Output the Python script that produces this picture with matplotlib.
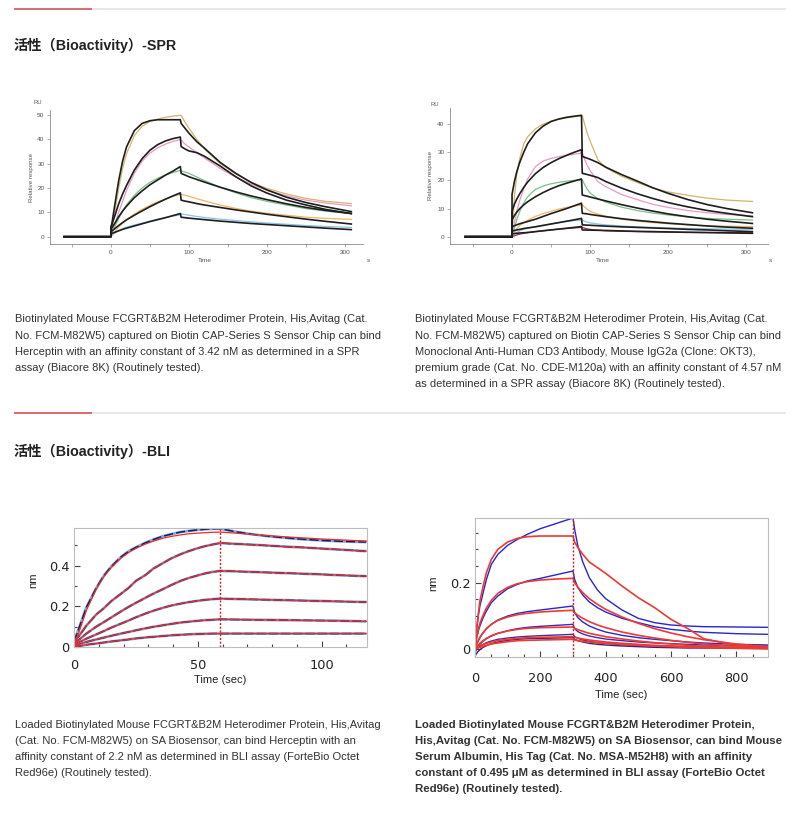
import matplotlib
matplotlib.use("Agg")
import matplotlib.pyplot as plt
from matplotlib.ticker import MultipleLocator, FixedLocator, FuncFormatter

W, H = 800, 817
LATIN = ['Liberation Sans', 'DejaVu Sans']
MIXED = ['Liberation Sans', 'Noto Sans CJK SC', 'DejaVu Sans']
plt.rcParams['font.family'] = LATIN

# ---------------- SPR left (Herceptin) ----------------
SPR_L_BASE_T = [-60, 0]
SPR_L_T_A = [0, 5, 10, 15, 20, 30, 40, 50, 60, 70, 80, 89]
SPR_L_T_D = [90, 95, 100, 110, 120, 140, 160, 180, 200, 225, 250, 275, 308]

spr_l_fit1_a = [2.7, 13, 23, 31, 36.8, 43.5, 46.5, 47.6, 48, 48, 48, 48]
spr_l_fit1_d = [46.5, 44.5, 42.5, 39, 36.3, 30.5, 26, 22.2, 19.2, 16.2, 14, 12.3, 10.3]
spr_l_fit2_a = [4, 8.5, 13.5, 17.5, 21, 27.3, 32, 35.5, 37.8, 39.3, 40.3, 40.9]
spr_l_fit2_d = [37, 36, 35.2, 34.5, 33.0, 29, 24.6, 20.8, 17.9, 15, 13, 11.2, 9.5]
spr_l_fit3_a = [3, 5.5, 8.2, 10.5, 12.5, 16, 18.8, 21.3, 23.3, 25.3, 27, 28.8]
spr_l_fit3_d = [26, 25.3, 24.6, 23.5, 22.4, 20.3, 18.4, 16.7, 15.2, 13.5, 12, 10.8, 9.5]
spr_l_fit4_a = [2, 3.3, 4.6, 5.8, 6.9, 8.8, 10.6, 12.3, 13.9, 15.4, 16.8, 18]
spr_l_fit4_d = [15, 14.6, 14.3, 13.6, 13, 12, 11, 10.1, 9.2, 8.2, 7.2, 6.3, 5.2]
spr_l_fit5_a = [1.2, 1.8, 2.4, 3, 3.5, 4.4, 5.3, 6.2, 7, 7.8, 8.7, 9.5]
spr_l_fit5_d = [8, 7.8, 7.6, 7.3, 7, 6.4, 5.9, 5.4, 5, 4.5, 4, 3.5, 2.9]

spr_l_dat1_a = [0.5, 10, 20, 28, 34, 41.5, 45.3, 47.3, 48.3, 49, 49.5, 49.8]
spr_l_dat1_d = [49.8, 47, 44.5, 40, 36, 30, 25.8, 22.3, 19.8, 17.5, 15.7, 14.5, 13.6]
spr_l_dat2_a = [1, 5, 10, 14.5, 19, 26, 31, 34.3, 36.5, 38, 39.2, 39.8]
spr_l_dat2_d = [39.6, 38, 36.8, 34.5, 32.3, 28, 24.5, 21.5, 19, 16.8, 15, 13.8, 12.7]
spr_l_dat3_a = [0.5, 4, 7.5, 10.5, 13, 17, 20, 22.3, 24, 25.3, 26.4, 27.2]
spr_l_dat3_d = [27, 26.5, 26, 24.5, 23, 20.3, 18, 16, 14.5, 13, 11.5, 10.5, 9.5]
spr_l_dat4_a = [0, 2, 4, 5.5, 7, 9.3, 11.2, 12.9, 14.3, 15.5, 16.6, 17.4]
spr_l_dat4_d = [17.4, 17, 16.6, 15.6, 14.7, 13, 11.6, 10.5, 9.6, 8.8, 8, 7.5, 7.1]
spr_l_dat5_a = [0.2, 1.5, 2.6, 3.3, 3.9, 4.8, 5.6, 6.4, 7.2, 7.9, 8.5, 9]
spr_l_dat5_d = [9.3, 9.1, 8.8, 8.3, 7.9, 7.2, 6.6, 6.1, 5.6, 5.1, 4.6, 4.2, 3.8]
spr_l_colors = ['#d2b46c', '#e79ac4', '#7cc08a', '#f0b466', '#8cc3e6']

# ---------------- SPR right (OKT3) ----------------
SPR_R_BASE_T = [-60, 0]
SPR_R_T_A = [0, 3, 6, 10, 15, 20, 30, 40, 50, 60, 70, 80, 89]
SPR_R_T_D = [90, 93, 96, 100, 110, 120, 140, 160, 180, 200, 225, 250, 275, 308]

spr_r_fit1_a = [15, 19.5, 23, 26.5, 30, 33, 36.9, 39.3, 40.9, 41.8, 42.4, 42.8, 43.1]
spr_r_fit1_d = [28.5, 28.2, 27.9, 27.5, 26.3, 24.7, 22.1, 19.8, 17.4, 15.4, 13.2, 11.4, 10, 8.5]
spr_r_fit2_a = [9, 11.5, 13.3, 15.3, 17.5, 19.4, 22.4, 24.6, 26.3, 27.7, 28.9, 30, 30.9]
spr_r_fit2_d = [22.5, 22.3, 22.1, 21.8, 21, 19.6, 17.3, 15.3, 13.6, 12.1, 10.6, 9.3, 8.3, 7.1]
spr_r_fit3_a = [6, 7.5, 8.7, 10, 11.3, 12.4, 14.2, 15.7, 17, 18.1, 19, 19.8, 20.5]
spr_r_fit3_d = [14.8, 14.6, 14.4, 14.1, 13.4, 12.7, 11.4, 10.2, 9.1, 8.1, 7.1, 6.2, 5.5, 4.7]
spr_r_fit4_a = [3.5, 3.9, 4.2, 4.6, 5, 5.4, 6.2, 7.2, 8.2, 9.1, 10, 11, 11.9]
spr_r_fit4_d = [8.3, 8.2, 8.1, 7.9, 7.5, 7.1, 6.4, 5.8, 5.3, 4.8, 4.3, 3.8, 3.4, 3.0]
spr_r_fit5_a = [2, 2.2, 2.4, 2.6, 2.9, 3.1, 3.5, 4, 4.5, 5, 5.5, 6, 6.5]
spr_r_fit5_d = [4.2, 4.15, 4.1, 4.05, 3.9, 3.75, 3.5, 3.3, 3.1, 2.9, 2.6, 2.4, 2.1, 1.8]
spr_r_fit6_a = [1, 1.1, 1.2, 1.3, 1.4, 1.5, 1.8, 2.1, 2.4, 2.7, 3, 3.3, 3.6]
spr_r_fit6_d = [2.4, 2.38, 2.36, 2.33, 2.27, 2.2, 2.05, 1.9, 1.8, 1.7, 1.55, 1.45, 1.35, 1.2]

spr_r_dat1_a = [0, 14, 22, 28, 33, 35.5, 38.3, 40, 41, 41.7, 42.2, 42.6, 43]
spr_r_dat1_d = [43, 40, 37, 34, 27.3, 24.5, 21.5, 19.3, 17.3, 15.9, 14.7, 13.7, 13, 12.5]
spr_r_dat2_a = [0, 5, 9, 13, 17, 20.5, 24.9, 26.9, 27.8, 28.4, 28.9, 29.3, 29.7]
spr_r_dat2_d = [29.7, 27.5, 25.5, 23.5, 19.5, 17.8, 15, 13.2, 11.5, 10.4, 9.3, 8.5, 7.9, 7.4]
spr_r_dat3_a = [0, 3, 6, 9, 12, 14.2, 16.8, 18, 18.8, 19.3, 19.7, 20, 20.2]
spr_r_dat3_d = [20.2, 18.5, 17, 15.5, 13.5, 12.3, 10.5, 9.3, 8.4, 7.7, 7, 6.5, 6.2, 5.9]
spr_r_dat4_a = [0, 1.5, 2.8, 4, 5, 5.8, 7.2, 8.2, 9, 9.8, 10.4, 10.9, 11.3]
spr_r_dat4_d = [11.3, 10.5, 9.8, 9, 8, 7.3, 6.2, 5.5, 5, 4.6, 4.2, 3.9, 3.7, 3.6]
spr_r_dat5_a = [0, 0.8, 1.5, 2.1, 2.6, 3, 3.6, 4.1, 4.6, 5, 5.4, 5.7, 5.9]
spr_r_dat5_d = [5.9, 5.5, 5.2, 4.9, 4.5, 4.2, 3.8, 3.5, 3.3, 3.1, 2.9, 2.8, 2.7, 2.6]
spr_r_dat6_a = [0, 0.3, 0.6, 0.9, 1.2, 1.4, 1.8, 2.1, 2.4, 2.7, 2.9, 3.1, 3.3]
spr_r_dat6_d = [3.3, 3.0, 2.8, 2.6, 2.3, 2.1, 1.9, 1.8, 1.7, 1.6, 1.55, 1.5, 1.45, 1.4]
spr_r_colors = ['#d2b46c', '#e79ac4', '#7cc08a', '#f0b466', '#8cc3e6', '#a3344e']

# ---------------- BLI left (Herceptin) ----------------
BLI_L_T_A = [0, 5, 9, 12, 15, 19, 22, 25, 29, 32, 36, 39, 43, 46, 50, 53, 56, 59]
BLI_L_T_D = [59, 65, 72, 79, 86, 93, 100, 107, 114, 118]
BLI_L_SWITCH = 59

bli_l_dat1_a = [0.025, 0.195, 0.29, 0.35, 0.395, 0.443, 0.47, 0.49, 0.513, 0.528, 0.545, 0.554, 0.565, 0.57, 0.576, 0.579, 0.581, 0.582]
bli_l_dat1_d = [0.582, 0.567, 0.554, 0.544, 0.536, 0.529, 0.524, 0.52, 0.517, 0.516]
bli_l_fit1_a = [0.0, 0.18, 0.285, 0.345, 0.39, 0.437, 0.464, 0.485, 0.507, 0.52, 0.535, 0.543, 0.551, 0.556, 0.56, 0.562, 0.564, 0.565]
bli_l_fit1_d = [0.565, 0.56, 0.553, 0.547, 0.541, 0.536, 0.531, 0.527, 0.523, 0.521]
bli_l_cur2_a = [0.02, 0.105, 0.16, 0.19, 0.225, 0.262, 0.29, 0.325, 0.355, 0.385, 0.413, 0.434, 0.456, 0.47, 0.486, 0.496, 0.504, 0.511]
bli_l_cur2_d = [0.511, 0.507, 0.503, 0.498, 0.493, 0.489, 0.484, 0.479, 0.474, 0.471]
bli_l_cur3_a = [0.015, 0.066, 0.1, 0.122, 0.145, 0.175, 0.197, 0.217, 0.243, 0.262, 0.285, 0.303, 0.325, 0.338, 0.352, 0.362, 0.369, 0.374]
bli_l_cur3_d = [0.374, 0.372, 0.369, 0.366, 0.363, 0.36, 0.357, 0.353, 0.35, 0.348]
bli_l_cur4_a = [0.01, 0.041, 0.062, 0.078, 0.095, 0.115, 0.13, 0.146, 0.165, 0.178, 0.193, 0.203, 0.213, 0.22, 0.227, 0.232, 0.235, 0.238]
bli_l_cur4_d = [0.238, 0.236, 0.234, 0.232, 0.23, 0.228, 0.226, 0.224, 0.222, 0.221]
bli_l_cur5_a = [0.005, 0.025, 0.037, 0.046, 0.055, 0.066, 0.074, 0.082, 0.092, 0.099, 0.107, 0.113, 0.12, 0.124, 0.129, 0.132, 0.134, 0.136]
bli_l_cur5_d = [0.136, 0.135, 0.134, 0.133, 0.132, 0.131, 0.13, 0.129, 0.127, 0.126]
bli_l_cur6_a = [0.0, 0.011, 0.017, 0.022, 0.027, 0.033, 0.037, 0.042, 0.047, 0.05, 0.054, 0.057, 0.06, 0.062, 0.064, 0.065, 0.066, 0.066]
bli_l_cur6_d = [0.066, 0.066, 0.066, 0.066, 0.066, 0.066, 0.066, 0.066, 0.066, 0.066]

# ---------------- BLI right (MSA) ----------------
BLI_R_T_A = [0, 5, 10, 15, 25, 35, 50, 70, 100, 130, 160, 200, 250, 300]
BLI_R_T_D = [300, 305, 315, 330, 350, 375, 400, 450, 500, 550, 600, 650, 700, 800, 897]
BLI_R_SWITCH = 300

bli_r_dat1_a = [0.0, 0.06, 0.1, 0.13, 0.17, 0.21, 0.255, 0.285, 0.312, 0.33, 0.345, 0.362, 0.378, 0.394]
bli_r_dat1_d = [0.394, 0.36, 0.31, 0.262, 0.215, 0.178, 0.152, 0.118, 0.093, 0.08, 0.073, 0.07, 0.068, 0.067, 0.066]
bli_r_fit1_a = [0.0, 0.06, 0.105, 0.145, 0.19, 0.23, 0.27, 0.3, 0.322, 0.333, 0.338, 0.34, 0.34, 0.34]
bli_r_fit1_d = [0.34, 0.322, 0.305, 0.285, 0.262, 0.245, 0.228, 0.19, 0.155, 0.125, 0.09, 0.063, 0.032, 0.012, 0.006]
bli_r_dat2_a = [0.0, 0.035, 0.055, 0.07, 0.095, 0.115, 0.14, 0.16, 0.182, 0.195, 0.205, 0.213, 0.224, 0.235]
bli_r_dat2_d = [0.235, 0.21, 0.185, 0.163, 0.142, 0.125, 0.112, 0.093, 0.08, 0.068, 0.06, 0.055, 0.051, 0.047, 0.045]
bli_r_fit2_a = [0.0, 0.035, 0.06, 0.078, 0.103, 0.124, 0.147, 0.168, 0.186, 0.197, 0.203, 0.208, 0.211, 0.213]
bli_r_fit2_d = [0.213, 0.2, 0.186, 0.17, 0.152, 0.135, 0.12, 0.097, 0.078, 0.062, 0.049, 0.038, 0.029, 0.016, 0.008]
bli_r_dat3_a = [0.0, 0.015, 0.025, 0.035, 0.05, 0.062, 0.075, 0.088, 0.1, 0.108, 0.113, 0.118, 0.124, 0.13]
bli_r_dat3_d = [0.13, 0.11, 0.095, 0.082, 0.07, 0.06, 0.052, 0.042, 0.035, 0.03, 0.026, 0.022, 0.019, 0.015, 0.013]
bli_r_fit3_a = [0.0, 0.015, 0.027, 0.036, 0.05, 0.062, 0.075, 0.087, 0.097, 0.104, 0.108, 0.112, 0.115, 0.117]
bli_r_fit3_d = [0.117, 0.11, 0.102, 0.093, 0.083, 0.073, 0.065, 0.052, 0.042, 0.034, 0.027, 0.021, 0.016, 0.009, 0.005]
bli_r_dat4_a = [-0.01, 0.0, 0.008, 0.015, 0.025, 0.032, 0.04, 0.048, 0.056, 0.062, 0.066, 0.069, 0.072, 0.075]
bli_r_dat4_d = [0.075, 0.062, 0.053, 0.046, 0.04, 0.035, 0.031, 0.026, 0.022, 0.019, 0.017, 0.015, 0.013, 0.011, 0.01]
bli_r_fit4_a = [0.0, 0.007, 0.013, 0.018, 0.026, 0.033, 0.041, 0.048, 0.055, 0.06, 0.063, 0.065, 0.066, 0.067]
bli_r_fit4_d = [0.067, 0.063, 0.059, 0.054, 0.048, 0.043, 0.038, 0.031, 0.025, 0.02, 0.016, 0.012, 0.009, 0.005, 0.003]
bli_r_dat5_a = [-0.005, 0.002, 0.006, 0.01, 0.015, 0.02, 0.025, 0.03, 0.034, 0.037, 0.039, 0.041, 0.043, 0.045]
bli_r_dat5_d = [0.045, 0.038, 0.033, 0.028, 0.024, 0.02, 0.018, 0.014, 0.012, 0.01, 0.009, 0.008, 0.007, 0.006, 0.005]
bli_r_fit5_a = [0.0, 0.004, 0.007, 0.01, 0.014, 0.018, 0.022, 0.026, 0.03, 0.033, 0.035, 0.036, 0.037, 0.038]
bli_r_fit5_d = [0.038, 0.036, 0.034, 0.031, 0.028, 0.025, 0.022, 0.018, 0.015, 0.012, 0.01, 0.008, 0.006, 0.004, 0.002]
bli_r_dat6_a = [-0.02, -0.012, -0.006, -0.001, 0.006, 0.011, 0.017, 0.022, 0.027, 0.03, 0.032, 0.033, 0.034, 0.035]
bli_r_dat6_d = [0.035, 0.03, 0.026, 0.022, 0.018, 0.015, 0.013, 0.01, 0.008, 0.006, 0.005, 0.004, 0.004, 0.003, 0.003]
bli_r_fit6_a = [0.0, 0.002, 0.004, 0.006, 0.009, 0.012, 0.016, 0.019, 0.023, 0.026, 0.027, 0.028, 0.029, 0.03]
bli_r_fit6_d = [0.03, 0.028, 0.026, 0.024, 0.022, 0.02, 0.018, 0.015, 0.012, 0.01, 0.008, 0.006, 0.005, 0.003, 0.002]

# ---------------- Texts ----------------
HEAD_SPR = '活性（Bioactivity）-SPR'
HEAD_BLI = '活性（Bioactivity）-BLI'
CAP_SPR_L = ["Biotinylated Mouse FCGRT&B2M Heterodimer Protein, His,Avitag (Cat.",
             "No. FCM-M82W5) captured on Biotin CAP-Series S Sensor Chip can bind",
             "Herceptin with an affinity constant of 3.42 nM as determined in a SPR",
             "assay (Biacore 8K) (Routinely tested)."]
CAP_SPR_R = ["Biotinylated Mouse FCGRT&B2M Heterodimer Protein, His,Avitag (Cat.",
             "No. FCM-M82W5) captured on Biotin CAP-Series S Sensor Chip can bind",
             "Monoclonal Anti-Human CD3 Antibody, Mouse IgG2a (Clone: OKT3),",
             "premium grade (Cat. No. CDE-M120a) with an affinity constant of 4.57 nM",
             "as determined in a SPR assay (Biacore 8K) (Routinely tested)."]
CAP_BLI_L = ["Loaded Biotinylated Mouse FCGRT&B2M Heterodimer Protein, His,Avitag",
             "(Cat. No. FCM-M82W5) on SA Biosensor, can bind Herceptin with an",
             "affinity constant of 2.2 nM as determined in BLI assay (ForteBio Octet",
             "Red96e) (Routinely tested)."]
CAP_BLI_R = ["Loaded Biotinylated Mouse FCGRT&B2M Heterodimer Protein,",
             "His,Avitag (Cat. No. FCM-M82W5) on SA Biosensor, can bind Mouse",
             "Serum Albumin, His Tag (Cat. No. MSA-M52H8) with an affinity",
             "constant of 0.495 \u03bcM as determined in BLI assay (ForteBio Octet",
             "Red96e) (Routinely tested)."]

fig = plt.figure(figsize=(W / 100, H / 100), dpi=100)
fig.patch.set_facecolor('white')


def fx(x):
    return x / W


def fy(y):
    return 1 - y / H


def add_ax(x0, y0, x1, y1):
    return fig.add_axes([fx(x0), fy(y1), (x1 - x0) / W, (y1 - y0) / H])


# decorative rules
rule_ax = fig.add_axes([0, 0, 1, 1], zorder=-5)
rule_ax.set_xlim(0, W)
rule_ax.set_ylim(H, 0)
rule_ax.axis('off')
for yy in (9, 413):
    rule_ax.plot([90, 785], [yy, yy], color='#e3e3e3', lw=1.2)
    rule_ax.plot([15, 91], [yy, yy], color='#d96a6a', lw=1.4)

fig.text(fx(14), fy(45), HEAD_SPR, family=MIXED, fontweight='bold', fontsize=10.25, color='#222222', va='center')
fig.text(fx(14), fy(451), HEAD_BLI, family=MIXED, fontweight='bold', fontsize=10.25, color='#222222', va='center')


def captions(lines, x, y0, bold=False):
    for i, s in enumerate(lines):
        fig.text(fx(x), fy(y0 + 16.2 * i), s, fontsize=8.2 if bold else 8.05, color='#333333', va='center',
                 fontweight='bold' if bold else 'normal')


captions(CAP_SPR_L, 15, 319.5)
captions(CAP_SPR_R, 415, 319.5)
captions(CAP_BLI_L, 15, 724.5)
captions(CAP_BLI_R, 415, 724.5, bold=True)


# ---------------- SPR panels ----------------
def spr_axes(x0, y0, x1, y1, xlim, ylim, yticks):
    ax = add_ax(x0, y0, x1, y1)
    ax.set_xlim(*xlim)
    ax.set_ylim(*ylim)
    for s in ('top', 'right'):
        ax.spines[s].set_visible(False)
    for s in ('left', 'bottom'):
        ax.spines[s].set_color('#8a8a8a')
        ax.spines[s].set_linewidth(0.6)
    ax.set_xticks([0, 100, 200, 300])
    ax.xaxis.set_minor_locator(FixedLocator([-50, 50, 150, 250]))
    ax.set_yticks(yticks)
    ax.tick_params(which='both', direction='out', color='#8a8a8a', width=0.5,
                   labelsize=4.6, labelcolor='#555555', pad=1.5)
    ax.tick_params(which='major', length=2.5)
    ax.tick_params(which='minor', length=2)
    ax.patch.set_alpha(0)
    return ax


def series(base_t, ta, td, va, vd, base_v):
    return base_t + ta + td, base_v + va + vd


axL = spr_axes(50, 110, 363, 244, (-78, 323), (-3, 52), [0, 10, 20, 30, 40, 50])
spr_l_dat = [(spr_l_dat1_a, spr_l_dat1_d), (spr_l_dat2_a, spr_l_dat2_d), (spr_l_dat3_a, spr_l_dat3_d),
             (spr_l_dat4_a, spr_l_dat4_d), (spr_l_dat5_a, spr_l_dat5_d)]
spr_l_fit = [(spr_l_fit1_a, spr_l_fit1_d), (spr_l_fit2_a, spr_l_fit2_d), (spr_l_fit3_a, spr_l_fit3_d),
             (spr_l_fit4_a, spr_l_fit4_d), (spr_l_fit5_a, spr_l_fit5_d)]
for (va, vd), c in zip(spr_l_dat, spr_l_colors):
    t, v = series(SPR_L_BASE_T, SPR_L_T_A, SPR_L_T_D, va, vd, [0, 0])
    axL.plot(t, v, color=c, lw=0.9)
for va, vd in spr_l_fit:
    t, v = series(SPR_L_BASE_T, SPR_L_T_A, SPR_L_T_D, va, vd, [0, 0])
    axL.plot(t, v, color='#1e1e1e', lw=1.2)

axR = spr_axes(450, 108, 768, 244, (-79.5, 328), (-2.6, 45.7), [0, 10, 20, 30, 40])
spr_r_dat = [(spr_r_dat1_a, spr_r_dat1_d), (spr_r_dat2_a, spr_r_dat2_d), (spr_r_dat3_a, spr_r_dat3_d),
             (spr_r_dat4_a, spr_r_dat4_d), (spr_r_dat5_a, spr_r_dat5_d), (spr_r_dat6_a, spr_r_dat6_d)]
spr_r_fit = [(spr_r_fit1_a, spr_r_fit1_d), (spr_r_fit2_a, spr_r_fit2_d), (spr_r_fit3_a, spr_r_fit3_d),
             (spr_r_fit4_a, spr_r_fit4_d), (spr_r_fit5_a, spr_r_fit5_d), (spr_r_fit6_a, spr_r_fit6_d)]
for (va, vd), c in zip(spr_r_dat, spr_r_colors):
    t, v = series(SPR_R_BASE_T, SPR_R_T_A, SPR_R_T_D, va, vd, [0, 0])
    axR.plot(t, v, color=c, lw=0.9)
for va, vd in spr_r_fit:
    t, v = series(SPR_R_BASE_T, SPR_R_T_A, SPR_R_T_D, va, vd, [0, 0])
    axR.plot(t, v, color='#1e1e1e', lw=1.2)

for (xr, yr, xrr, yrr, xt, yt, xs) in [(38, 103, 31, 178, 205, 261, 368), (435, 104, 431, 176, 603, 261, 770)]:
    fig.text(fx(xr), fy(yr), 'RU', fontsize=4.2, color='#555555', ha='center', va='center')
    fig.text(fx(xrr), fy(yrr), 'Relative response', fontsize=4.4, color='#555555', ha='center',
             va='center', rotation=90)
    fig.text(fx(xt), fy(yt), 'Time', fontsize=4.6, color='#555555', ha='center', va='center')
    fig.text(fx(xs), fy(yt), 's', fontsize=4.6, color='#555555', ha='center', va='center')


# ---------------- BLI panels ----------------
def bli_axes(x0, y0, x1, y1, xlim, ylim, xpad):
    ax = add_ax(x0, y0, x1, y1)
    ax.set_xlim(*xlim)
    ax.set_ylim(*ylim)
    for s in ax.spines.values():
        s.set_color('#bdbdbd')
        s.set_linewidth(0.8)
    ax.tick_params(which='both', direction='in', color='#444444', width=0.8,
                   labelsize=9.3, labelcolor='#222222', pad=3, top=False, right=False)
    ax.tick_params(axis='x', which='both', pad=xpad)
    ax.tick_params(which='major', length=4)
    ax.tick_params(which='minor', length=2.5)
    ax.yaxis.set_major_formatter(FuncFormatter(lambda v, p: '0' if abs(v) < 1e-9 else f'{v:g}'))
    return ax


def dejavu_ticks(ax):
    for lab in ax.get_xticklabels() + ax.get_yticklabels():
        lab.set_family('DejaVu Sans')


bL = bli_axes(74, 528, 367, 647, (0, 118.3), (0, 0.585), 8.5)
bL.set_xticks([0, 50, 100])
bL.xaxis.set_minor_locator(MultipleLocator(10))
bL.set_yticks([0, 0.2, 0.4])
bL.yaxis.set_minor_locator(MultipleLocator(0.1))
dejavu_ticks(bL)
bli_l_data = [(bli_l_dat1_a, bli_l_dat1_d), (bli_l_cur2_a, bli_l_cur2_d), (bli_l_cur3_a, bli_l_cur3_d),
              (bli_l_cur4_a, bli_l_cur4_d), (bli_l_cur5_a, bli_l_cur5_d), (bli_l_cur6_a, bli_l_cur6_d)]
bli_l_fits = [(bli_l_fit1_a, bli_l_fit1_d), (bli_l_cur2_a, bli_l_cur2_d), (bli_l_cur3_a, bli_l_cur3_d),
              (bli_l_cur4_a, bli_l_cur4_d), (bli_l_cur5_a, bli_l_cur5_d), (bli_l_cur6_a, bli_l_cur6_d)]
for va, vd in bli_l_data:
    bL.plot(BLI_L_T_A + BLI_L_T_D, va + vd, color='#7fb0dc', lw=2.0, solid_capstyle='butt')
    bL.plot(BLI_L_T_A + BLI_L_T_D, va + vd, color='#1c1c5c', lw=1.1, dashes=(6, 2))
for va, vd in bli_l_fits:
    bL.plot(BLI_L_T_A + BLI_L_T_D, va + vd, color='#ee2a2a', lw=0.9)
bL.axvline(BLI_L_SWITCH, color='#d42020', lw=1.0, ls=(0, (1.5, 1.2)))
bL.set_xlabel('Time (sec)', fontsize=8, labelpad=2.2, color='#222222')
fig.text(fx(33), fy(580), 'nm', fontsize=8, rotation=90, ha='center', va='center', color='#222222')

bR = bli_axes(475, 518, 768, 657, (0, 897), (-0.023, 0.394), 10.5)
bR.set_xticks([0, 200, 400, 600, 800])
bR.xaxis.set_minor_locator(MultipleLocator(50))
bR.set_yticks([0, 0.2])
bR.yaxis.set_minor_locator(MultipleLocator(0.05))
dejavu_ticks(bR)
bli_r_data = [(bli_r_dat1_a, bli_r_dat1_d), (bli_r_dat2_a, bli_r_dat2_d), (bli_r_dat3_a, bli_r_dat3_d),
              (bli_r_dat4_a, bli_r_dat4_d), (bli_r_dat5_a, bli_r_dat5_d), (bli_r_dat6_a, bli_r_dat6_d)]
bli_r_fits = [(bli_r_fit1_a, bli_r_fit1_d), (bli_r_fit2_a, bli_r_fit2_d), (bli_r_fit3_a, bli_r_fit3_d),
              (bli_r_fit4_a, bli_r_fit4_d), (bli_r_fit5_a, bli_r_fit5_d), (bli_r_fit6_a, bli_r_fit6_d)]
blue_cols = ['#2525d0', '#2525d0', '#2828c8', '#3a2ab8', '#4a2a9a', '#3c1a80']
for (va, vd), c in zip(bli_r_data, blue_cols):
    bR.plot(BLI_R_T_A + BLI_R_T_D, va + vd, color=c, lw=1.0)
for va, vd in bli_r_fits:
    bR.plot(BLI_R_T_A + BLI_R_T_D, va + vd, color='#ec3a32', lw=1.2)
bR.axvline(BLI_R_SWITCH, color='#d42020', lw=1.0, ls=(0, (1.5, 1.2)))
bR.set_xlabel('Time (sec)', fontsize=8, labelpad=4, color='#222222')
fig.text(fx(433), fy(583), 'nm', fontsize=8, rotation=90, ha='center', va='center', color='#222222')

fig.savefig('out.png', dpi=100, facecolor='white')
